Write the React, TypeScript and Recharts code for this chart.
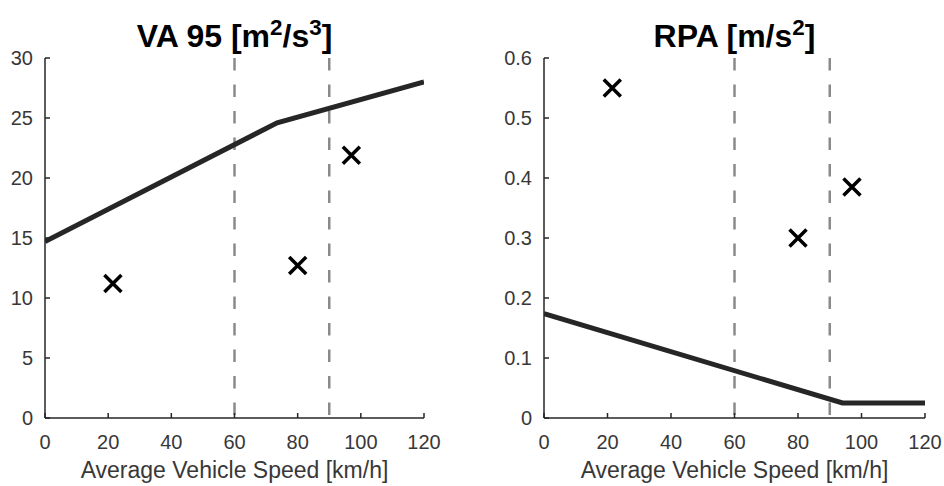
import React from "react";
import {
  ComposedChart,
  Line,
  Scatter,
  XAxis,
  YAxis,
  ReferenceLine,
  Label,
} from "recharts";

const speedTicks = [0, 20, 40, 60, 80, 100, 120];
const vaTicks = [0, 5, 10, 15, 20, 25, 30];
const rpaTicks = [0, 0.1, 0.2, 0.3, 0.4, 0.5, 0.6];
const limitSpeeds = [60, 90];

const vaLimitSpeeds = [0, 73.5, 120];
const vaLimitValues = [14.7, 24.6, 28.0];
const rpaLimitSpeeds = [0, 94, 120];
const rpaLimitValues = [0.174, 0.025, 0.025];

const measuredSpeeds = [21.5, 80, 97];
const vaMeasured = [11.2, 12.7, 21.9];
const rpaMeasured = [0.55, 0.3, 0.385];

const FONT = "'Liberation Sans', Arial, sans-serif";
const AXIS = "#262626";

type Pt = { x: number; y: number };
const zip = (xs: number[], ys: number[]): Pt[] => xs.map((x, i) => ({ x, y: ys[i] }));

function Cross(props: any) {
  const { cx, cy } = props;
  if (cx == null || cy == null) return null;
  const h = 8.5;
  return (
    <path
      d={`M${cx - h},${cy - h}L${cx + h},${cy + h}M${cx - h},${cy + h}L${cx + h},${cy - h}`}
      stroke="#000"
      strokeWidth={3.5}
      fill="none"
    />
  );
}

// draw the limit lines from the top down, so the dash pattern starts at the top
function DashedLimit(props: any) {
  const { x1, y1, x2, y2 } = props;
  return (
    <line
      x1={x1}
      x2={x2}
      y1={Math.min(y1, y2)}
      y2={Math.max(y1, y2)}
      stroke="#8a8a8a"
      strokeWidth={2.5}
      strokeDasharray="12.5 14"
    />
  );
}

type PanelProps = {
  left: number;
  yAxisWidth: number;
  rightMargin: number;
  yTicks: number[];
  limit: Pt[];
  measured: Pt[];
  title: React.ReactNode;
};

function Panel({ left, yAxisWidth, rightMargin, yTicks, limit, measured, title }: PanelProps) {
  const plotLeft = yAxisWidth;
  const plotRight = 472 - rightMargin;
  const tick = { fontSize: 20, fill: "#383838", fontFamily: FONT };
  return (
    <div style={{ position: "absolute", left, top: 0, width: 472, height: 486 }}>
      <div
        style={{
          position: "absolute",
          left: plotLeft,
          width: plotRight - plotLeft,
          top: 13,
          textAlign: "center",
          fontFamily: FONT,
          fontWeight: "bold",
          fontSize: 32,
          lineHeight: "30px",
          color: "#000",
        }}
      >
        {title}
      </div>
      <ComposedChart
        width={472}
        height={486}
        margin={{ top: 58, right: rightMargin, bottom: 0, left: 0 }}
      >
        <XAxis
          dataKey="x"
          type="number"
          domain={[0, 120]}
          ticks={speedTicks}
          height={68}
          tickSize={-5}
          tickMargin={22}
          tick={tick}
          stroke={AXIS}
          strokeWidth={1.5}
          allowDataOverflow
        >
          <Label
            value="Average Vehicle Speed [km/h]"
            position="insideBottom"
            offset={8}
            style={{ fontSize: 23, fill: "#383838", fontFamily: FONT }}
          />
        </XAxis>
        <YAxis
          dataKey="y"
          type="number"
          domain={[yTicks[0], yTicks[yTicks.length - 1]]}
          ticks={yTicks}
          width={yAxisWidth}
          tickSize={-5}
          tickMargin={17}
          tick={tick}
          stroke={AXIS}
          strokeWidth={1.5}
          allowDataOverflow
        />
        {limitSpeeds.map((s) => (
          <ReferenceLine key={s} x={s} shape={DashedLimit} />
        ))}
        <Line
          data={limit}
          dataKey="y"
          type="linear"
          stroke="#262626"
          strokeWidth={5}
          dot={false}
          activeDot={false}
          isAnimationActive={false}
        />
        <Scatter
          data={measured}
          dataKey="y"
          shape={Cross}
          isAnimationActive={false}
        />
      </ComposedChart>
    </div>
  );
}

export default function App() {
  return (
    <div
      style={{
        position: "absolute",
        left: 0,
        top: 0,
        width: 944,
        height: 486,
        background: "#fff",
      }}
    >
      <Panel
        left={0}
        yAxisWidth={45}
        rightMargin={48}
        yTicks={vaTicks}
        limit={zip(vaLimitSpeeds, vaLimitValues)}
        measured={zip(measuredSpeeds, vaMeasured)}
        title={
          <span>
            VA 95 [m<sup style={{ fontSize: "0.7em" }}>2</sup>/s
            <sup style={{ fontSize: "0.7em" }}>3</sup>]
          </span>
        }
      />
      <Panel
        left={472}
        yAxisWidth={72}
        rightMargin={19}
        yTicks={rpaTicks}
        limit={zip(rpaLimitSpeeds, rpaLimitValues)}
        measured={zip(measuredSpeeds, rpaMeasured)}
        title={
          <span>
            RPA [m/s<sup style={{ fontSize: "0.7em" }}>2</sup>]
          </span>
        }
      />
    </div>
  );
}
